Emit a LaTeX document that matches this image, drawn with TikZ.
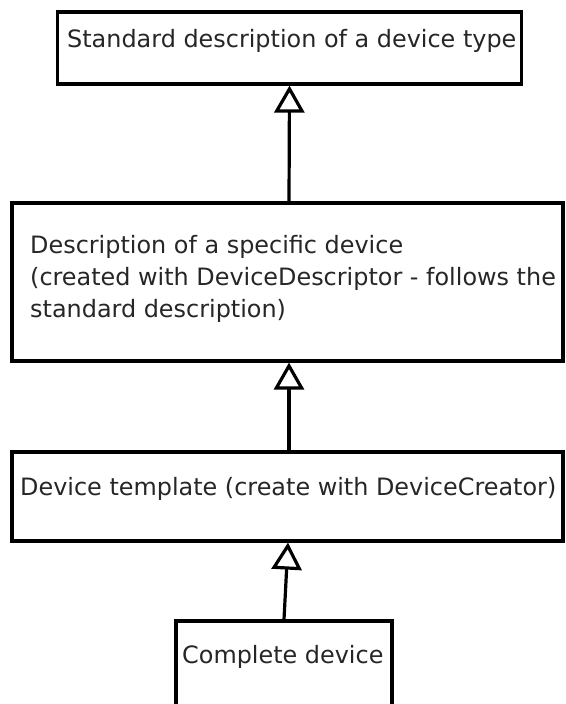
\documentclass[tikz,border=0pt]{standalone}
\usepackage{fontspec}
\setmainfont{DejaVu Sans}
\usetikzlibrary{arrows.meta}
\begin{document}
\begin{tikzpicture}[x=1pt,y=-1pt,
  box/.style={draw=black, line width=3.2pt, rectangle, inner sep=0pt, fill=white},
  lbl/.style={inner sep=0pt, anchor=base west, align=left, text=black!85,
    font=\fontsize{23.9pt}{32pt}\selectfont},
  inherit/.style={line width=3.2pt, -{Triangle[open, fill=white, length=27pt, width=30pt]}}]
\useasboundingbox (0,0) rectangle (565,704);
\begin{scope}
\clip (0,0) rectangle (565,704);
% boxes
\node[box, minimum width=464pt, minimum height=72pt] (b1) at (289.5,48) {};
\node[box, minimum width=551pt, minimum height=158pt] (b2) at (287.5,282) {};
\node[box, minimum width=551pt, minimum height=89pt] (b3) at (287.5,496.5) {};
\node[box, minimum width=216pt, minimum height=110pt] (b4) at (284,676) {};
% labels (a multi-line label sits on the baseline of its last line)
\node[lbl] (t1) at (67,47) {Standard description of a device type};
\node[lbl] (t2) at (30,317) {Description of a specific device\\(created with DeviceDescriptor - follows the\\standard description)};
\node[lbl] (t3) at (20,495) {Device template (create with DeviceCreator)};
\node[lbl] (t4) at (182,663) {Complete device};
% generalisation arrows
\draw[inherit] ([xshift=1.5pt]b2.north) -- (b1.south);
\draw[inherit] ([xshift=1.5pt]b3.north) -- ([xshift=1.5pt]b2.south);
\draw[inherit] (b4.north) -- ([xshift=0.5pt]b3.south);
\end{scope}
\end{tikzpicture}
\end{document}
